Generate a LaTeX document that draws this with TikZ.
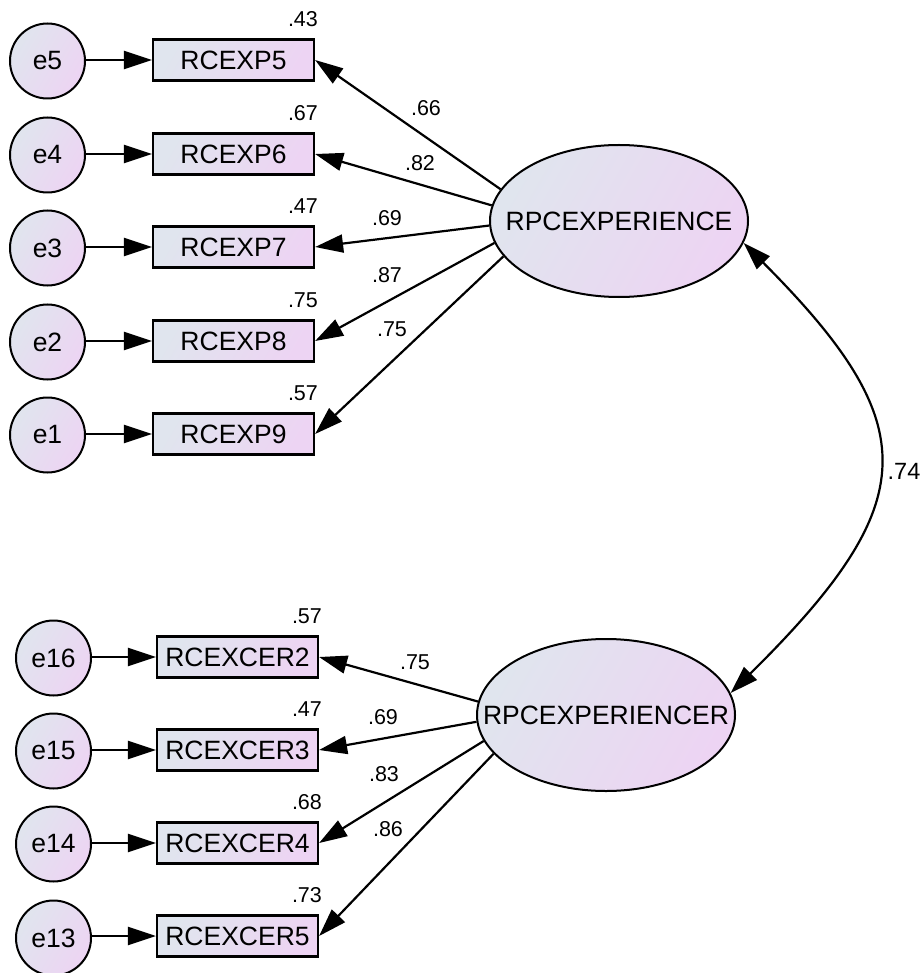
\documentclass[tikz,border=0pt]{standalone}
\usepackage{fontspec}
\setmainfont{Liberation Sans}
\usetikzlibrary{arrows.meta,shapes.geometric}
\definecolor{gA}{RGB}{224,229,238}
\definecolor{gB}{RGB}{237,212,243}
\tikzset{
  gradfill/.style={left color=gA, right color=gB, shading angle=60},
  errc/.style={circle, draw, line width=2pt, gradfill, minimum size=75pt, inner sep=0pt,
    font=\fontsize{26.5}{30}\selectfont},
  obs/.style={rectangle, draw, line width=2.2pt, gradfill, minimum width=161pt, minimum height=41pt,
    inner sep=0pt, font=\fontsize{26.5}{30}\selectfont},
  lat/.style={ellipse, draw, line width=2pt, gradfill, minimum width=258pt, minimum height=152pt,
    inner xsep=-50pt, inner ysep=0pt, font=\fontsize{26.5}{30}\selectfont},
  arr/.style={line width=2.2pt, -{Triangle[length=28pt,width=18pt]}},
  darr/.style={line width=2.2pt, {Triangle[length=28pt,width=18pt]}-{Triangle[length=28pt,width=18pt]}},
  coef/.style={font=\fontsize{21.5}{24}\selectfont, inner sep=0pt},
  rsq/.style={font=\fontsize{21.5}{24}\selectfont, inner sep=0pt, anchor=base east}
}
\begin{document}
\begin{tikzpicture}[x=1pt,y=-1pt]
\useasboundingbox (0,0) rectangle (923,973);
% group 1
\node[obs] (b5) at (233.5,60) {RCEXP5};
\node[obs] (b6) at (233.5,154) {RCEXP6};
\node[obs] (b7) at (233.5,247) {RCEXP7};
\node[obs] (b8) at (233.5,341) {RCEXP8};
\node[obs] (b9) at (233.5,434) {RCEXP9};
\node[errc] (e5) at (47.5,61) {e5};
\node[errc] (e4) at (47.5,155) {e4};
\node[errc] (e3) at (47.5,248) {e3};
\node[errc] (e2) at (47.5,342) {e2};
\node[errc] (e1) at (47.5,435) {e1};
\node[lat] (L1) at (619,221) {RPCEXPERIENCE};
% group 2
\node[obs] (c2) at (237.5,657) {RCEXCER2};
\node[obs] (c3) at (237.5,750) {RCEXCER3};
\node[obs] (c4) at (237.5,843) {RCEXCER4};
\node[obs] (c5) at (237.5,936) {RCEXCER5};
\node[errc] (e16) at (53.5,658) {e16};
\node[errc] (e15) at (53.5,751) {e15};
\node[errc] (e14) at (53.5,844) {e14};
\node[errc] (e13) at (53.5,938) {e13};
\node[lat] (L2) at (606,715) {RPCEXPERIENCER};
% error arrows
\foreach \e/\b in {e5/b5,e4/b6,e3/b7,e2/b8,e1/b9,e16/c2,e15/c3,e14/c4,e13/c5}
  \draw[arr] (\e.east |- \b.west) -- (\b.west);
% loadings
\draw[arr] (L1.165.4) -- (b5.east);
\draw[arr] (L1.173.8) -- (b6.east);
\draw[arr] (L1.182.6) -- (b7.east);
\draw[arr] (L1.190.5) -- (b8.east);
\draw[arr] (L1.197.7) -- (b9.east);
\draw[arr] (L2.174.2) -- (c2.east);
\draw[arr] (L2.183.5) -- (c3.east);
\draw[arr] (L2.192.4) -- (c4.east);
\draw[arr] (L2.199.8) -- (c5.east);
% covariance
\draw[darr] (L1.-10) .. controls (925,425) and (924,502) .. (L2.10);
\node[font=\fontsize{23.5}{26}\selectfont, inner sep=0pt] (cov) at (904,471) {.74};
% loading labels
\node[coef] (l5) at (426,108) {.66};
\node[coef] (l6) at (420,163) {.82};
\node[coef] (l7) at (387,218) {.69};
\node[coef] (l8) at (387,275) {.87};
\node[coef] (l9) at (392,329) {.75};
\node[coef] (m2) at (415,662) {.75};
\node[coef] (m3) at (383,717) {.69};
\node[coef] (m4) at (384,774) {.83};
\node[coef] (m5) at (388,829) {.86};
% squared multiple correlations
\node[rsq] (r5) at ([xshift=3pt,yshift=12pt]b5.north east) {.43};
\node[rsq] (r6) at ([xshift=3pt,yshift=12pt]b6.north east) {.67};
\node[rsq] (r7) at ([xshift=3pt,yshift=12pt]b7.north east) {.47};
\node[rsq] (r8) at ([xshift=3pt,yshift=12pt]b8.north east) {.75};
\node[rsq] (r9) at ([xshift=3pt,yshift=12pt]b9.north east) {.57};
\node[rsq] (s2) at ([xshift=3pt,yshift=12pt]c2.north east) {.57};
\node[rsq] (s3) at ([xshift=3pt,yshift=12pt]c3.north east) {.47};
\node[rsq] (s4) at ([xshift=3pt,yshift=12pt]c4.north east) {.68};
\node[rsq] (s5) at ([xshift=3pt,yshift=12pt]c5.north east) {.73};
\end{tikzpicture}
\end{document}
